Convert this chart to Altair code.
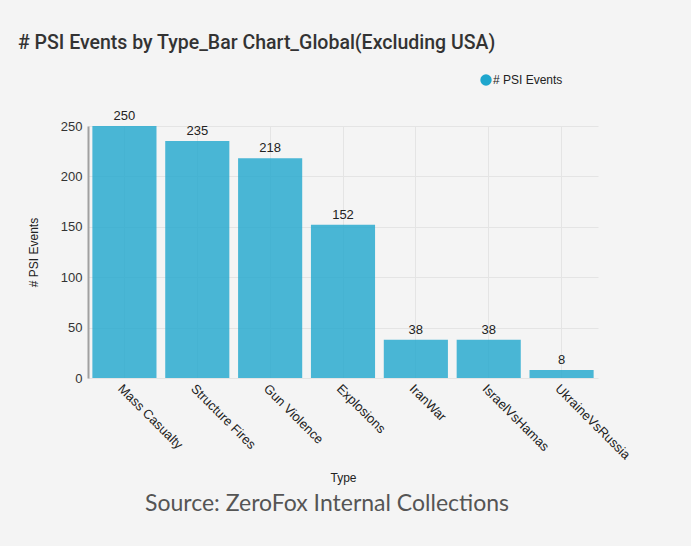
import altair as alt
import pandas as pd

types = ["Mass Casualty", "Structure Fires", "Gun Violence", "Explosions",
         "IranWar", "IsraelVsHamas", "UkraineVsRussia"]
events = [250, 235, 218, 152, 38, 38, 8]
series = ["# PSI Events"] * len(types)

df = pd.DataFrame({"Type": types, "Events": events, "Series": series})

BG = "#f4f4f4"
BLUE = "#1ea6cd"

x_enc = alt.X("Type:N", sort=types, title="Type",
              scale=alt.Scale(paddingInner=0.12, paddingOuter=0.06),
              axis=alt.Axis(labelAngle=45, labelAlign="left", labelBaseline="top",
                            labelFont="Liberation Sans", labelFontSize=13, labelColor="#222",
                            labelPadding=4, ticks=False, domain=False,
                            grid=True, gridColor="#e4e4e4",
                            titleFont="Liberation Sans", titleFontSize=12,
                            titleFontWeight="normal", titleColor="#222", titlePadding=11))
y_enc = alt.Y("Events:Q", title="# PSI Events",
              scale=alt.Scale(domain=[0, 250], nice=False),
              axis=alt.Axis(values=[0, 50, 100, 150, 200, 250], ticks=False,
                            domain=True, domainColor="#a0a0a0", domainWidth=2,
                            labelFont="Liberation Sans", labelFontSize=13, labelColor="#333",
                            labelPadding=6, gridColor="#e4e4e4",
                            titleFont="Liberation Sans", titleFontSize=12,
                            titleFontWeight="normal", titleColor="#222", titlePadding=20))

bars = alt.Chart(df).mark_bar(opacity=0.8).encode(
    x=x_enc, y=y_enc,
    color=alt.Color("Series:N", scale=alt.Scale(range=[BLUE]),
                    legend=alt.Legend(title=None, orient="none", legendX=392, legendY=-52,
                                      symbolType="circle", symbolSize=130,
                                      symbolOpacity=1, symbolStrokeWidth=0,
                                      labelFont="Liberation Sans", labelFontSize=12,
                                      labelColor="#222", labelOffset=1))
)

labels = alt.Chart(df).mark_text(baseline="bottom", dy=-3, font="Liberation Sans",
                                 fontSize=13, color="#222").encode(
    x=alt.X("Type:N", sort=types), y="Events:Q", text="Events:Q")

title_df = pd.DataFrame({"t": ["# PSI Events by Type_Bar Chart_Global(Excluding USA)"]})
title = alt.Chart(title_df).mark_text(align="left", baseline="middle", font="Roboto",
                                      fontSize=19.5, fontWeight=500, color="#333").encode(
    x=alt.value(-70), y=alt.value(-83), text="t:N")

src_df = pd.DataFrame({"t": ["Source: ZeroFox Internal Collections"]})
source = alt.Chart(src_df).mark_text(align="center", baseline="middle", font="Lato",
                                     fontSize=23, color="#555").encode(
    x=alt.value(239), y=alt.value(378), text="t:N")

chart = alt.layer(bars, labels, title, source).properties(
    width=510, height=252,
    autosize=alt.AutoSizeParams(type="none"),
    padding={"left": 88, "top": 126, "right": 93, "bottom": 168},
    background=BG,
).configure_view(stroke=None)

chart.save("out.html", embed_options={"renderer": "svg", "actions": False})
